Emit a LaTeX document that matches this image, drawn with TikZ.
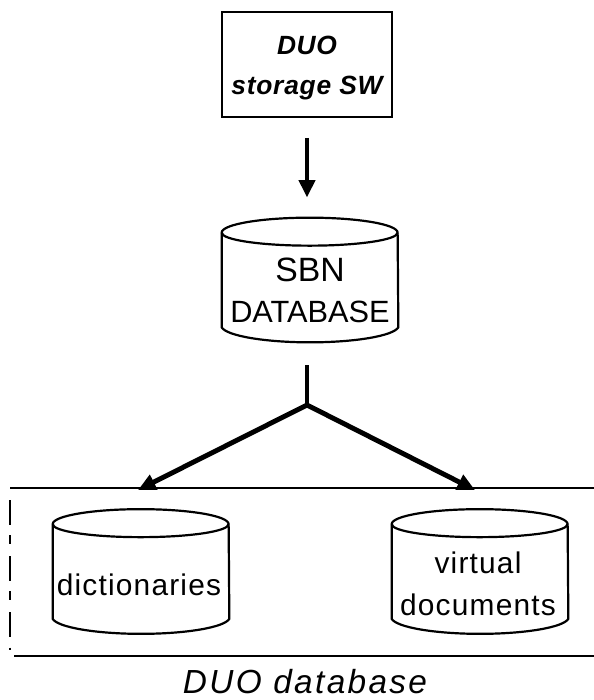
\documentclass[tikz,border=0pt]{standalone}
\usepackage{fontspec}
\setmainfont{Liberation Sans}
\usetikzlibrary{arrows.meta}
\tikzset{
  swbox/.style={draw,line width=1pt,inner sep=0pt,minimum width=3.4cm,minimum height=2.1cm},
  dbase/.style={inner sep=0pt,minimum width=3.52cm,minimum height=2.48cm},
  dbline/.style={line width=1.25pt,line join=round},
  flow/.style={line width=2.8pt,-{Triangle[width=9pt,length=10pt]}},
  rule/.style={line width=1.1pt},
}
\newcommand{\dbcan}[1]{
\draw [dbline] ([yshift=-0.3cm]#1.north west) arc (180:0:1.76cm and 0.3cm)
  -- ([yshift=0.3cm]#1.south east)
  .. controls +(-0.1cm,-0.17cm) and +(0.9cm,0cm) .. (#1.south)
  .. controls +(-0.9cm,0cm) and +(0.1cm,-0.17cm) .. ([yshift=0.3cm]#1.south west) -- cycle;
\draw [dbline] ([yshift=-0.3cm]#1.north west) arc (180:360:1.76cm and 0.26cm);
}
\begin{document}
\begin{tikzpicture}[x=0.02cm,y=-0.02cm]
\useasboundingbox (0,0) rectangle (594,700);
\node [swbox] (storage) at (307,64.5) {};
\node [dbase] (sbn) at (310,280) {};
\node [dbase] (dict) at (141,571.5) {};
\node [dbase] (virtual) at (480,571.5) {};
\foreach \n in {sbn,dict,virtual} {\dbcan{\n}}
% box and database labels
\draw (307,45) node {\fontsize{15pt}{16pt}\selectfont\bfseries\itshape\addfontfeatures{LetterSpace=2} DUO};
\draw (307,88) node {\fontsize{15pt}{16pt}\selectfont\bfseries\itshape\addfontfeatures{LetterSpace=3} storage SW};
\draw (310,270) node {\fontsize{19.2pt}{24pt}\selectfont SBN};
\draw (310,312) node {\fontsize{17.5pt}{20pt}\selectfont DATABASE};
\draw (139,585) node {\fontsize{17pt}{20pt}\selectfont\addfontfeatures{LetterSpace=4} dictionaries};
\draw (478,563) node {\fontsize{17pt}{20pt}\selectfont\addfontfeatures{LetterSpace=4} virtual};
\draw (478,605) node {\fontsize{17pt}{20pt}\selectfont\addfontfeatures{LetterSpace=4} documents};
\draw (305,682) node {\fontsize{19pt}{22pt}\selectfont\itshape\addfontfeatures{LetterSpace=7} DUO database};
% arrows
\coordinate (stem) at (307,365);
\coordinate (split) at (307,405);
\coordinate (tipdict) at (138,490);
\coordinate (tipvirtual) at (475,490);
\draw [flow,shorten <=11.4pt,shorten >=11.4pt] (storage.south) -- (storage.south |- sbn.north);
\draw [line width=2.8pt] (stem) -- (split);
\draw [flow] (split) -- (tipdict);
\draw [flow] (split) -- (tipvirtual);
% frame of the database
\draw [rule] (10,488) -- (594,488);
\draw [rule] (14,656) -- (594,656);
\draw [line width=0.8pt,dash pattern=on 14pt off 6pt on 5pt off 7pt] (10,500) -- (10,650);
\end{tikzpicture}
\end{document}
